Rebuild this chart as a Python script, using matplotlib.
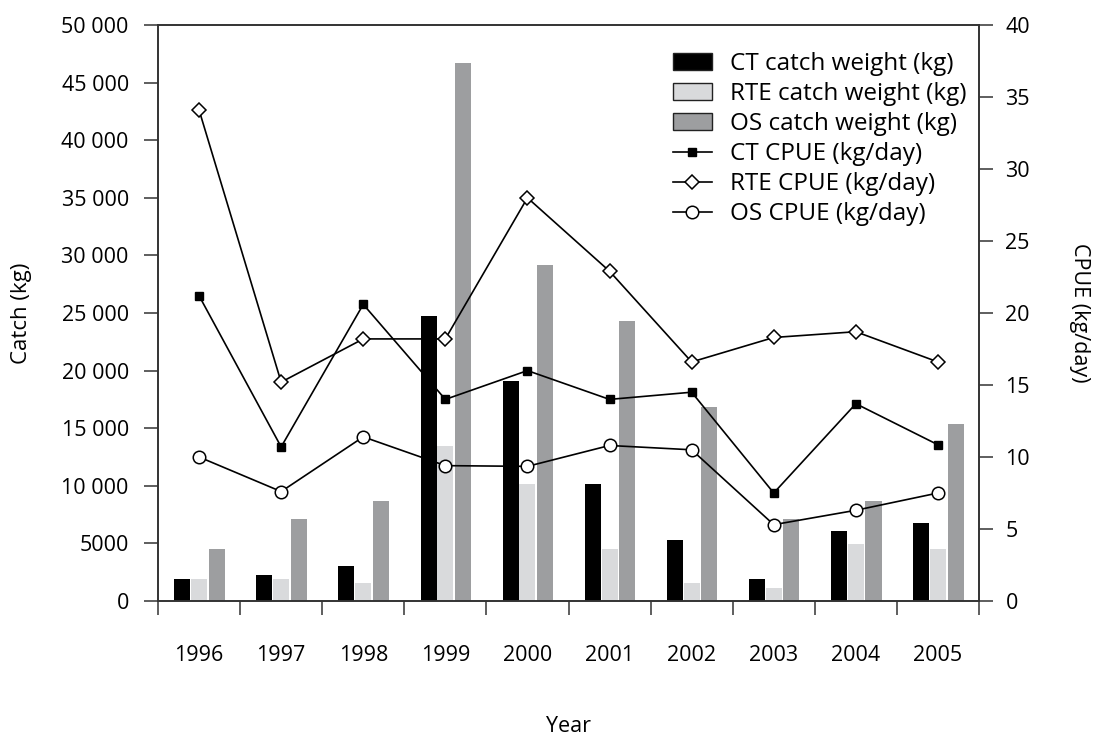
import matplotlib
matplotlib.use("Agg")
import matplotlib.pyplot as plt
import numpy as np
from matplotlib.ticker import FuncFormatter, FixedLocator

plt.rcParams['font.family'] = ['Open Sans', 'DejaVu Sans']

years = ['1996', '1997', '1998', '1999', '2000', '2001', '2002', '2003', '2004', '2005']
ct_catch = [1900, 2250, 3000, 24750, 19100, 10150, 5300, 1900, 6050, 6750]
rte_catch = [1900, 1900, 1550, 13450, 10150, 4500, 1550, 1100, 4950, 4500]
os_catch = [4500, 7100, 8700, 46700, 29150, 24300, 16850, 7100, 8700, 15350]
ct_cpue = [21.2, 10.7, 20.6, 14.0, 16.0, 14.0, 14.5, 7.5, 13.7, 10.85]
rte_cpue = [34.1, 15.2, 18.2, 18.2, 28.0, 22.9, 16.6, 18.3, 18.7, 16.6]
os_cpue = [10.0, 7.6, 11.4, 9.4, 9.35, 10.8, 10.5, 5.3, 6.3, 7.5]

W, H = 1096, 736
FS = 15.5
LFS = 17.5
fig = plt.figure(figsize=(W / 100, H / 100), dpi=100)
ax = fig.add_axes([158 / W, 1 - 601 / H, (979 - 158) / W, (601 - 25) / H])
ax2 = ax.twinx()

x = np.arange(len(years))
bw = 0.195
c_black, c_light, c_dark = '#000000', '#d9dadc', '#9d9ea0'
b1 = ax.bar(x - 0.205, ct_catch, bw, color=c_black, label='CT catch weight (kg)')
b2 = ax.bar(x, rte_catch, bw, color=c_light, label='RTE catch weight (kg)')
b3 = ax.bar(x + 0.215, os_catch, bw, color=c_dark, label='OS catch weight (kg)')

l1, = ax2.plot(x, ct_cpue, color='black', lw=1.2, marker='s', ms=6,
               mfc='black', mec='black', label='CT CPUE (kg/day)')
l2, = ax2.plot(x, rte_cpue, color='black', lw=1.2, marker='D', ms=7,
               mfc='white', mec='black', mew=1.1, label='RTE CPUE (kg/day)')
l3, = ax2.plot(x, os_cpue, color='black', lw=1.2, marker='o', ms=9,
               mfc='white', mec='black', mew=1.1, label='OS CPUE (kg/day)')

ax.set_xlim(-0.5, len(years) - 0.5)
ax.set_ylim(0, 50000)
ax2.set_ylim(0, 40)

def fmt(v, pos):
    v = int(round(v))
    if v >= 10000:
        return f"{v:,}".replace(',', ' ')
    return str(v)

ax.yaxis.set_major_locator(FixedLocator(np.arange(0, 50001, 5000)))
ax.yaxis.set_major_formatter(FuncFormatter(fmt))
ax2.yaxis.set_major_locator(FixedLocator(np.arange(0, 41, 5)))

ax.set_xticks(x)
ax.set_xticklabels(years)
ax.set_xticks(np.arange(-0.5, len(years)), minor=True)
ax.tick_params(axis='x', which='major', length=0, pad=32, labelsize=FS)
ax.tick_params(axis='x', which='minor', length=10, width=1.1, direction='out', color='#333333')
ax.tick_params(axis='y', length=10, width=1.1, direction='out', pad=11, labelsize=FS, color='#333333')
ax2.tick_params(axis='y', length=10, width=1.1, direction='out', pad=9, labelsize=FS, color='#333333')

for a in (ax, ax2):
    for sp in a.spines.values():
        sp.set_linewidth(1.2)
        sp.set_color('#333333')

ax.set_ylabel('Catch (kg)', fontsize=16, va='center')
ax.yaxis.set_label_coords((22 - 158) / 821, 0.5)
ax2.set_ylabel('CPUE (kg/day)', fontsize=FS, rotation=270, va='center')
ax2.yaxis.set_label_coords((1080 - 158) / 821, 0.5)
ax.set_xlabel('Year', fontsize=FS, va='center')
ax.xaxis.set_label_coords(0.5, (601 - 727) / 576)

handles = [b1, b2, b3, l1, l2, l3]
labels = [h.get_label() for h in handles]
leg = ax2.legend(handles, labels, loc='upper left',
                 bbox_to_anchor=((673 - 158) / 821, (601 - 52) / 576),
                 frameon=False, fontsize=LFS, borderpad=0, borderaxespad=0,
                 handlelength=1.6, handletextpad=0.74, labelspacing=0.25,
                 handleheight=0.7)
for p in leg.get_patches():
    p.set_edgecolor('#222222')
    p.set_linewidth(1.0)

fig.savefig('out.png', dpi=100)
